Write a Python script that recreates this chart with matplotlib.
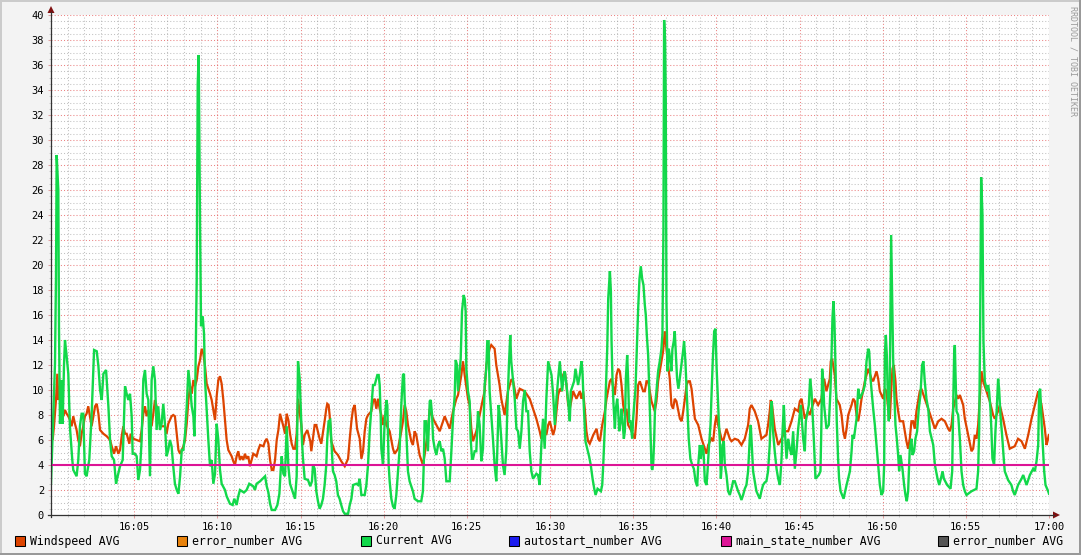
import matplotlib
matplotlib.use("Agg")
import matplotlib.pyplot as plt
from matplotlib.patches import Rectangle, Polygon
from matplotlib.lines import Line2D

# (minutes after 16:00, value)
wind_pts = [
    (0.00, 7.1), (0.10, 6), (0.18, 7.1), (0.30, 9.2), (0.38, 11.3), (0.44, 9.2), (0.50, 9.7), (0.58, 10.8),
    (0.64, 8.7), (0.74, 7.9), (0.84, 8.4), (0.94, 8.1), (1.04, 7.9), (1.14, 7.6), (1.24, 7.1), (1.34, 7.9),
    (1.44, 7.3), (1.54, 6.8), (1.64, 6), (1.74, 5.5), (1.84, 6.5), (1.94, 7.1), (2.04, 7.9), (2.14, 8.1),
    (2.24, 8.7), (2.34, 7.9), (2.44, 7.1), (2.55, 7.9), (2.65, 8.7), (2.75, 8.9), (2.85, 8.1), (2.95, 6.8),
    (3.15, 6.5), (3.35, 6.3), (3.55, 6), (3.65, 5.5), (3.79, 4.9), (3.91, 5.5), (4.05, 4.9), (4.15, 5.2),
    (4.25, 6.3), (4.35, 7.1), (4.45, 6.5), (4.55, 6.5), (4.71, 5.7), (4.79, 6.5), (4.95, 6.1), (5.15, 6),
    (5.35, 5.9), (5.45, 6.8), (5.55, 8.1), (5.65, 8.7), (5.75, 7.9), (5.85, 8.4), (5.95, 7.9), (6.05, 7.1),
    (6.15, 8.1), (6.25, 9.2), (6.35, 8.7), (6.45, 7.9), (6.55, 7.3), (6.65, 7.1), (6.85, 7.1), (6.95, 6.5),
    (7.05, 7.3), (7.25, 7.9), (7.35, 8), (7.45, 7.9), (7.56, 6.5), (7.66, 5.2), (7.76, 4.9), (7.96, 5.5),
    (8.06, 6), (8.16, 7.3), (8.26, 9.2), (8.36, 10.3), (8.46, 9.7), (8.56, 10.8), (8.66, 10.3), (8.76, 10.8),
    (8.86, 11.9), (8.96, 12.4), (9.06, 13.3), (9.16, 12.9), (9.26, 11.9), (9.36, 10.5), (9.56, 9.7), (9.66, 9.2),
    (9.76, 8.4), (9.86, 7.6), (9.96, 9.5), (10.06, 10.8), (10.16, 11.1), (10.26, 10.5), (10.36, 9.2), (10.46, 7.6),
    (10.56, 6), (10.66, 5.2), (10.86, 4.7), (10.96, 4.3), (11.06, 4), (11.16, 4.7), (11.26, 5.1), (11.36, 4.4),
    (11.46, 4.7), (11.56, 4.4), (11.66, 4.9), (11.76, 4.5), (11.86, 4.7), (11.96, 3.9), (12.16, 4.9), (12.36, 4.7),
    (12.46, 5.2), (12.57, 5.6), (12.77, 5.5), (12.87, 5.9), (12.97, 6.1), (13.07, 5.7), (13.17, 4.4), (13.27, 3.6),
    (13.37, 3.6), (13.47, 4.4), (13.57, 6), (13.67, 6.8), (13.77, 8.1), (13.87, 7.6), (13.97, 7.1), (14.07, 6.5),
    (14.17, 8.1), (14.27, 7.6), (14.37, 6.5), (14.47, 5.7), (14.57, 5.3), (14.67, 5.3), (14.77, 6.5),
    (14.85, 9.3), (15.05, 7.2), (15.15, 5.6), (15.25, 6.4), (15.41, 6.8), (15.59, 5.9), (15.65, 5.1), (15.85, 7.2),
    (15.95, 7.2), (16.15, 6.1), (16.25, 5.7), (16.45, 7.5), (16.55, 8.5), (16.61, 8.9), (16.69, 8.8), (16.75, 8),
    (16.85, 5.9), (17.05, 5.1), (17.25, 4.8), (17.45, 4.3), (17.66, 3.9), (17.86, 4.5), (17.96, 6.1), (18.06, 7.5),
    (18.16, 8.5), (18.26, 8.8), (18.40, 6.9), (18.56, 6.1), (18.66, 4.5), (18.76, 5.1), (18.86, 6.7), (18.96, 7.7),
    (19.06, 8), (19.26, 8.3), (19.36, 9.1), (19.46, 9.3), (19.56, 8.5), (19.66, 9.3), (19.76, 8.5), (19.86, 8),
    (19.96, 7.2), (20.06, 8), (20.16, 7.2), (20.36, 6.7), (20.56, 5.3), (20.66, 4.9), (20.86, 5.3), (21.06, 6.7),
    (21.16, 7.5), (21.26, 8.8), (21.36, 8.3), (21.46, 7.2), (21.66, 5.9), (21.76, 5.6), (21.86, 6.7), (21.96, 6.4),
    (22.16, 4.8), (22.36, 4), (22.46, 4.8), (22.66, 6.7), (22.77, 8.5), (22.97, 7.7), (23.17, 7.2), (23.37, 6.7),
    (23.67, 7.9), (23.97, 6.9), (24.17, 8.3), (24.37, 9.3), (24.47, 9.6), (24.67, 11.2), (24.77, 12.3), (24.87, 11.2),
    (25.07, 9.3), (25.17, 8.8), (25.27, 6.9), (25.37, 5.9), (25.57, 6.7), (25.77, 8), (25.97, 9.3), (26.07, 9.9),
    (26.17, 12), (26.37, 13.3), (26.47, 13.6), (26.67, 13.3), (26.77, 12), (26.97, 10.4), (27.07, 9.3), (27.27, 8),
    (27.47, 9.9), (27.67, 10.8), (27.77, 10.8), (27.98, 9.3), (28.18, 10.1), (28.48, 9.9), (28.78, 9.3), (28.98, 8.5),
    (29.18, 7.7), (29.38, 6.7), (29.48, 6.1), (29.68, 6.7), (29.78, 6.4),
    (29.89, 7.2), (29.99, 7.5), (30.19, 6.4), (30.29, 6.9), (30.39, 8.3), (30.49, 9.6), (30.59, 10.1), (30.69, 9.9),
    (30.79, 11.2), (30.89, 11.5), (30.99, 10.4), (31.09, 8.8), (31.19, 8.5), (31.39, 9.9), (31.59, 9.3), (31.79, 9.9),
    (31.89, 9.3), (31.99, 9.9), (32.09, 8.5), (32.19, 6.7), (32.29, 5.9), (32.39, 5.7), (32.60, 6.4), (32.80, 6.9),
    (32.90, 6.1), (33.00, 5.9), (33.14, 7.2), (33.30, 8.3), (33.40, 9.3), (33.60, 10.7), (33.70, 10.9), (33.90, 9.6),
    (34.00, 11.2), (34.10, 11.7), (34.20, 11.5), (34.30, 10.4), (34.40, 8.8), (34.50, 8), (34.60, 8.5), (34.70, 7.2),
    (34.90, 6.7), (35.10, 6.1), (35.20, 7.7), (35.30, 10.4), (35.40, 10.7), (35.60, 9.9), (35.70, 9.9), (35.80, 10.7),
    (35.90, 10.7), (36.10, 9.1), (36.30, 8.3), (36.40, 9.1), (36.50, 10.7), (36.70, 12.3), (36.80, 13.1), (36.90, 14.7),
    (37.00, 13.3), (37.10, 12), (37.20, 10.9), (37.30, 8.8), (37.40, 8.5), (37.50, 9.3), (37.60, 9.1), (37.81, 7.7),
    (37.91, 7.5), (38.01, 8.3), (38.11, 9.3), (38.21, 10.4), (38.31, 10.7), (38.41, 10.7), (38.51, 10.1), (38.71, 7.7),
    (38.91, 7.2), (39.11, 6.1), (39.31, 5.3), (39.41, 4.9), (39.51, 5.6), (39.71, 6.1), (39.81, 5.9), (39.91, 7.2),
    (40.01, 8), (40.11, 7.2), (40.31, 6.1), (40.41, 5.9), (40.61, 6.9), (40.81, 6.1), (40.91, 5.9), (41.11, 6.1),
    (41.31, 6), (41.51, 5.6), (41.71, 6.1), (41.91, 7.2), (42.01, 8.5), (42.11, 8.8), (42.31, 8.3), (42.51, 7.5),
    (42.71, 6.1), (43.01, 6.4), (43.11, 7.2), (43.21, 8.3), (43.27, 9.2), (43.35, 8.8), (43.51, 6.9), (43.72, 5.6),
    (43.92, 6.1), (44.12, 6.7), (44.32, 6.7), (44.52, 7.5), (44.72, 8.5),
    (44.92, 8.3), (45.02, 9.1), (45.12, 9.3), (45.32, 7.7), (45.52, 8.3), (45.62, 8), (45.72, 8.5), (45.92, 9.3),
    (46.12, 8.8), (46.32, 9.3), (46.42, 10.4), (46.48, 10.9), (46.62, 9.9), (46.82, 10.9), (46.88, 12.3), (46.96, 12.5),
    (47.12, 11.2), (47.22, 9.3), (47.42, 8.8), (47.53, 8), (47.63, 6.7), (47.73, 6.1), (47.83, 6.9), (47.93, 8),
    (48.13, 8.8), (48.23, 9.3), (48.33, 9.1), (48.43, 8), (48.53, 7.5), (48.63, 8.3), (48.73, 9.3), (48.93, 10.7),
    (49.13, 11.7), (49.33, 10.9), (49.43, 10.7), (49.63, 11.5), (49.73, 10.9), (49.83, 9.9), (50.03, 9.3), (50.13, 10.1),
    (50.23, 9.9), (50.33, 8.5), (50.43, 7.7), (50.53, 10.4), (50.59, 11.7), (50.67, 12), (50.77, 10.7), (50.83, 9.3),
    (50.93, 8.3), (51.03, 7.5), (51.23, 7.5), (51.33, 6.7), (51.43, 5.9), (51.53, 5.3), (51.63, 6.1), (51.73, 7.5),
    (51.83, 7.5), (51.93, 6.9), (52.03, 8.3), (52.13, 9.1), (52.23, 9.9), (52.33, 10.1), (52.53, 9.3), (52.74, 8.5),
    (52.94, 7.7), (53.14, 6.9), (53.34, 7.5), (53.54, 7.7), (53.74, 7.5), (53.94, 6.9), (54.04, 6.7), (54.14, 7.2),
    (54.24, 8.5), (54.44, 9.6), (54.54, 9.3), (54.64, 9.6), (54.84, 8.8), (54.94, 7.7), (55.14, 6.4), (55.34, 5.1),
    (55.44, 5.3), (55.54, 6.4), (55.64, 6.1), (55.74, 7.2), (55.84, 9.3), (55.94, 11.5), (56.04, 10.7), (56.24, 9.9),
    (56.44, 9.1), (56.64, 8), (56.74, 7.7), (56.94, 8.3), (57.04, 8.8), (57.24, 7.7), (57.44, 6.4), (57.64, 5.3),
    (57.94, 5.5), (58.14, 6.1), (58.35, 5.9), (58.55, 5.3), (58.75, 6.4), (58.95, 7.7), (59.15, 8.8), (59.35, 9.9),
    (59.55, 8.8), (59.75, 6.9), (59.85, 5.6), (59.91, 5.9), (59.99, 6.4),
]

current_pts = [
    (0.00, 2.5), (0.24, 12.1), (0.30, 19), (0.34, 28.8), (0.44, 26), (0.48, 15), (0.54, 7.3), (0.64, 10.8),
    (0.70, 7.3), (0.78, 11.9), (0.84, 14), (0.94, 12.7), (1.04, 11.3), (1.14, 7), (1.28, 4.4), (1.34, 3.6),
    (1.54, 3.1), (1.64, 4.4), (1.74, 7.1), (1.84, 8.1), (1.94, 8.1), (2.04, 3.3), (2.14, 3.1), (2.30, 4.4),
    (2.44, 7.9), (2.59, 13.2), (2.75, 13.1), (2.85, 11.9), (2.95, 10), (3.05, 9.2), (3.15, 11.3), (3.31, 11.6),
    (3.45, 8.7), (3.55, 6), (3.65, 4.7), (3.79, 4.4), (3.91, 2.5), (3.99, 3), (4.15, 3.9), (4.31, 4.4),
    (4.45, 10.3), (4.55, 9.7), (4.65, 9.2), (4.75, 9.7), (4.85, 7.9), (4.91, 4.9), (5.05, 4.9), (5.15, 4.7),
    (5.25, 2.8), (5.35, 3.6), (5.45, 6), (5.55, 10.8), (5.65, 11.6), (5.75, 9.7), (5.85, 9.2), (5.95, 3.1),
    (6.05, 10.8), (6.15, 11.9), (6.25, 10.8), (6.35, 6.8), (6.45, 8.7), (6.55, 6.8), (6.65, 7.3), (6.75, 8.9),
    (6.85, 7.3), (6.95, 4.7), (7.05, 5.2), (7.15, 6), (7.25, 5.5), (7.35, 3.9), (7.45, 2.5), (7.56, 2),
    (7.66, 1.7), (7.76, 3.1), (7.86, 5.2), (7.96, 5.2), (8.06, 6.5), (8.16, 8.7), (8.26, 11.6), (8.36, 10.3),
    (8.46, 8.7), (8.56, 7.9), (8.62, 6.3), (8.66, 8.7), (8.76, 18.8), (8.82, 34.5), (8.88, 36.8), (8.96, 23.3),
    (9.02, 15.1), (9.12, 15.9), (9.20, 14.5), (9.26, 10.8), (9.36, 8.4), (9.46, 6), (9.56, 3.9), (9.66, 4.4),
    (9.76, 2.5), (9.86, 3.3), (9.96, 7.3), (10.06, 6), (10.16, 3.6), (10.26, 2.5), (10.46, 2), (10.56, 1.5),
    (10.76, 0.9), (10.92, 0.8), (11.02, 1.3), (11.16, 0.8), (11.26, 1.5), (11.36, 2), (11.60, 1.8), (11.76, 2),
    (11.92, 2.5), (12.16, 2.3), (12.26, 2), (12.36, 2.5), (12.57, 2.7), (12.87, 3.1), (12.97, 2.3), (13.07, 1.8),
    (13.17, 0.9), (13.27, 0.4), (13.47, 0.4), (13.61, 0.8), (13.73, 1.7), (13.81, 3.6), (13.87, 4.7), (13.97, 3.3),
    (14.07, 3.1), (14.17, 7.1), (14.27, 3.9), (14.37, 2.5), (14.57, 1.7), (14.67, 1.3), (14.77, 3.1),
    (14.85, 12.3), (14.95, 10.9), (15.01, 8.8), (15.09, 5.9), (15.15, 4.5), (15.25, 2.9), (15.45, 2.8), (15.59, 2.3),
    (15.69, 2.7), (15.75, 4), (15.85, 3.7), (15.95, 1.9), (16.05, 1.1), (16.15, 0.5), (16.25, 0.8), (16.35, 1.3),
    (16.45, 2.4), (16.55, 4), (16.61, 6.1), (16.69, 7.5), (16.79, 7.6), (16.85, 6.1), (16.95, 3.5), (17.05, 3.2),
    (17.15, 2.7), (17.25, 1.6), (17.35, 1.3), (17.45, 0.8), (17.56, 0.3), (17.66, 0.1), (17.86, 0.1), (17.96, 0.8),
    (18.06, 1.3), (18.16, 2.4), (18.36, 2.5), (18.46, 2.4), (18.56, 2.9), (18.66, 1.6), (18.86, 1.6), (18.96, 2.4),
    (19.06, 4), (19.16, 6.7), (19.26, 8.5), (19.36, 10.4), (19.46, 10.4), (19.62, 11.2), (19.70, 11.2), (19.76, 10.4),
    (19.82, 8), (19.86, 5.3), (19.96, 4), (20.06, 7.5), (20.16, 9.2), (20.22, 8.8), (20.30, 4), (20.36, 2.7),
    (20.46, 1.3), (20.56, 0.7), (20.66, 0.5), (20.76, 1.6), (20.86, 3.5), (20.96, 5.3), (21.06, 8.8), (21.16, 11.2),
    (21.22, 11.3), (21.26, 9.3), (21.36, 6.7), (21.46, 3.5), (21.56, 2.7), (21.76, 1.9), (21.86, 1.3), (22.06, 1.1),
    (22.26, 1.1), (22.36, 1.9), (22.42, 4.5), (22.46, 7.5), (22.56, 7.5), (22.66, 5.1), (22.77, 9.1), (22.83, 9.2),
    (22.91, 8), (22.97, 6.1), (23.07, 5.3), (23.17, 4.8), (23.27, 5.6), (23.37, 5.9), (23.47, 5.1), (23.57, 5.3),
    (23.67, 4.5), (23.77, 2.7), (23.97, 2.7), (24.07, 5.1), (24.17, 7.7), (24.27, 9.6), (24.33, 12.4), (24.41, 12),
    (24.47, 9.9), (24.57, 11.5), (24.63, 12.5), (24.71, 16.3), (24.81, 17.6), (24.87, 17.3), (24.93, 16.3), (24.97, 11.7),
    (25.07, 9.9), (25.17, 9.1), (25.23, 6.1), (25.31, 4.5), (25.37, 4.5), (25.47, 5.1), (25.57, 5.1), (25.67, 8.3),
    (25.77, 7.2), (25.87, 4.3), (25.97, 5.3), (26.07, 10.4), (26.17, 11.7), (26.23, 13.9), (26.31, 13.9), (26.37, 9.9),
    (26.47, 8), (26.57, 6.1), (26.67, 4), (26.77, 2.7), (26.83, 5.1), (26.91, 8.8), (26.97, 8), (27.07, 6.1),
    (27.17, 4), (27.27, 3.2), (27.37, 5.1), (27.43, 8.3), (27.53, 12), (27.61, 14.4), (27.67, 12.3), (27.77, 10.9),
    (27.88, 9.3), (27.98, 6.9), (28.08, 6.7), (28.18, 5.3), (28.28, 6.7), (28.38, 9.1), (28.48, 10), (28.58, 8.3),
    (28.68, 8.3), (28.78, 5.1), (28.88, 3.5), (28.98, 2.9), (29.18, 3.3), (29.28, 3.2), (29.38, 2.4), (29.48, 5.6),
    (29.58, 7.7), (29.68, 5.3), (29.78, 9.3), (29.84, 10.9),
    (29.89, 12.3), (30.09, 11.2), (30.19, 9.6), (30.29, 7.2), (30.39, 9.3), (30.49, 10.9), (30.59, 12.3), (30.73, 9.9),
    (30.83, 11.2), (30.89, 11.5), (30.99, 10.4), (31.09, 9.1), (31.19, 7.5), (31.25, 9.9), (31.45, 10.7), (31.53, 11.7),
    (31.69, 10.4), (31.79, 11.2), (31.89, 12.3), (31.95, 11.5), (32.03, 8.8), (32.13, 5.9), (32.35, 4.7), (32.45, 4),
    (32.56, 2.9), (32.66, 2.1), (32.74, 1.6), (32.86, 2.1), (33.06, 1.9), (33.14, 2.4), (33.20, 4), (33.30, 7.2),
    (33.36, 10.1), (33.44, 13.3), (33.50, 17.3), (33.60, 19.5), (33.66, 17.9), (33.70, 13.9), (33.76, 10.7), (33.82, 8.8),
    (33.90, 6.9), (33.96, 8.5), (34.04, 9.3), (34.10, 8.3), (34.16, 6.7), (34.26, 7.7), (34.30, 8.5), (34.36, 7.5),
    (34.44, 6.1), (34.50, 6.7), (34.56, 10.9), (34.64, 12.8), (34.70, 10.7), (34.76, 7.5), (34.84, 7.5), (34.94, 6.1),
    (35.00, 7.7), (35.06, 8.8), (35.14, 10.1), (35.22, 13.3), (35.30, 16.5), (35.38, 18.9), (35.46, 19.9), (35.54, 18.9),
    (35.62, 18.4), (35.70, 16.8), (35.76, 16), (35.82, 14.4), (35.90, 12.8), (35.96, 10.4), (36.04, 6.9), (36.10, 4),
    (36.14, 3.6), (36.20, 4), (36.26, 5.9), (36.32, 8.8), (36.40, 9.9), (36.50, 11.5), (36.60, 12.3), (36.70, 13.3),
    (36.76, 14.5), (36.82, 22.9), (36.86, 39.6), (36.92, 38), (36.96, 33.2), (37.00, 17.2), (37.06, 11.5), (37.14, 13.3),
    (37.22, 12.5), (37.30, 11.5), (37.36, 13.3), (37.44, 13.9), (37.50, 14.7), (37.56, 13.1), (37.64, 10.9), (37.72, 10.1),
    (37.80, 10.9), (37.90, 12), (38.00, 13.1), (38.06, 13.9), (38.14, 12.3), (38.20, 10.4), (38.26, 8.3), (38.34, 6.1),
    (38.44, 4.5), (38.55, 4), (38.65, 3.7), (38.75, 2.7), (38.85, 2.3), (38.91, 4), (39.01, 5.6), (39.07, 4.5),
    (39.15, 5.6), (39.23, 5.1), (39.31, 2.7), (39.41, 2.4), (39.47, 3.5), (39.55, 5.3), (39.65, 7.2), (39.71, 9.6),
    (39.79, 12.5), (39.87, 14.7), (39.95, 14.9), (40.01, 12), (40.09, 9.3), (40.15, 7.5), (40.21, 5.9), (40.27, 2.9),
    (40.31, 3.7), (40.37, 5.6), (40.45, 5.9), (40.51, 4), (40.61, 3.2), (40.71, 1.9), (40.81, 1.6), (40.91, 2.1),
    (41.01, 2.7), (41.11, 2.7), (41.21, 2.3), (41.31, 1.9), (41.41, 1.6), (41.51, 1.2), (41.61, 1.6), (41.71, 2.1),
    (41.81, 2.4), (41.91, 3.5), (42.01, 6.1), (42.07, 7.2), (42.15, 5.1), (42.21, 3.5), (42.31, 2.7), (42.41, 1.9),
    (42.51, 1.6), (42.61, 1.3), (42.71, 1.9), (42.81, 2.4), (42.91, 2.6), (43.01, 2.7), (43.11, 3.5), (43.21, 5.6),
    (43.27, 8), (43.33, 9.1), (43.41, 6.7), (43.51, 5.1), (43.62, 3.7), (43.72, 2.9), (43.82, 2.4), (43.92, 4.5),
    (43.98, 6.7), (44.06, 8.8), (44.12, 6.7), (44.22, 4.5), (44.32, 6.1), (44.42, 5.3), (44.52, 4.8), (44.62, 6.7),
    (44.72, 3.7), (44.82, 5.1),
    (44.92, 6.9), (45.08, 8.8), (45.22, 6.1), (45.32, 5.1), (45.38, 7.5), (45.56, 8.8), (45.64, 10.9), (45.72, 9.9),
    (45.78, 8.3), (45.86, 6.1), (45.96, 2.9), (46.16, 3.2), (46.26, 3.5), (46.32, 7.5), (46.36, 11.7), (46.42, 10.9),
    (46.48, 8.8), (46.62, 6.9), (46.76, 7.2), (46.86, 9.9), (46.92, 12.5), (46.98, 15.7), (47.04, 17.1), (47.10, 15.5),
    (47.16, 12), (47.24, 7.5), (47.32, 4.5), (47.38, 2.9), (47.47, 1.9), (47.65, 1.3), (47.83, 2.4), (48.03, 3.5),
    (48.13, 5.1), (48.19, 6.4), (48.27, 6.1), (48.33, 6.7), (48.43, 7.7), (48.53, 10.1), (48.63, 9.3), (48.83, 9.9),
    (48.93, 10.4), (49.03, 12.3), (49.13, 13.3), (49.19, 13.1), (49.27, 10.9), (49.43, 8.5), (49.53, 7.2), (49.63, 5.6),
    (49.73, 4), (49.83, 2.4), (49.93, 1.6), (50.03, 1.9), (50.09, 4), (50.13, 12.8), (50.19, 14.4), (50.25, 12.8),
    (50.31, 9.3), (50.37, 7.5), (50.43, 10.7), (50.49, 20), (50.51, 22.4), (50.57, 17.3), (50.63, 12.5), (50.69, 10.1),
    (50.77, 7.2), (50.85, 6.1), (50.93, 4.8), (50.99, 3.5), (51.07, 4.8), (51.19, 3.7), (51.29, 2.4), (51.37, 1.6),
    (51.45, 1.1), (51.53, 1.9), (51.63, 5.3), (51.73, 6.1), (51.79, 4.8), (51.89, 5.1), (51.97, 6.1), (52.07, 6.7),
    (52.17, 8.5), (52.27, 9.6), (52.37, 12), (52.45, 12.3), (52.53, 10.7), (52.63, 9.3), (52.74, 8.5), (52.84, 6.7),
    (53.04, 5.6), (53.14, 4), (53.30, 2.9), (53.40, 2.4), (53.50, 2.9), (53.60, 3.5), (53.68, 2.9), (53.88, 2.4),
    (54.08, 2.1), (54.18, 3.5), (54.24, 8.8), (54.30, 13.1), (54.34, 13.6), (54.38, 11.2), (54.44, 8.3), (54.54, 8),
    (54.64, 6.1), (54.74, 3.5), (54.84, 2.4), (54.94, 1.9), (55.04, 1.6), (55.34, 1.9), (55.64, 2.1), (55.74, 3.5),
    (55.80, 6.7), (55.86, 14.7), (55.92, 27), (56.00, 24), (56.06, 13.9), (56.14, 10.7), (56.28, 9.9), (56.34, 10.4),
    (56.40, 9.9), (56.48, 8.5), (56.54, 6.7), (56.60, 4.5), (56.70, 4), (56.78, 6.7), (56.86, 8.5), (56.94, 10.9),
    (57.00, 10.1), (57.08, 8), (57.18, 6.4), (57.28, 4.5), (57.34, 3.5), (57.54, 2.8), (57.74, 2.4), (57.84, 1.9),
    (57.94, 1.6), (58.14, 2.4), (58.35, 2.9), (58.45, 3.2), (58.65, 2.4), (58.85, 3.2), (59.05, 3.7), (59.15, 3.5),
    (59.25, 4.3), (59.35, 5.6), (59.41, 9.9), (59.47, 10.1), (59.55, 7.5), (59.65, 5.1), (59.71, 3.5), (59.79, 2.4),
    (59.95, 1.9), (60.00, 1.7),
]

main_state_level = 4

x_tick_minutes = [5, 10, 15, 20, 25, 30, 35, 40, 45, 50, 55, 60]
x_tick_labels = ["16:05", "16:10", "16:15", "16:20", "16:25", "16:30",
                 "16:35", "16:40", "16:45", "16:50", "16:55", "17:00"]
y_ticks = list(range(0, 41, 2))

legend_labels = ["Windspeed AVG", "error_number AVG", "Current AVG",
                 "autostart_number AVG", "main_state_number AVG", "error_number AVG"]
legend_colors = ["#dd4400", "#e8820c", "#12d84a", "#1c1cf0", "#dc1496", "#555555"]

W, H = 1081, 555
MONO = "DejaVu Sans Mono"


def fx(px):
    return px / W


def fy(py):
    return 1 - py / H


fig = plt.figure(figsize=(W / 100, H / 100), dpi=100, facecolor="#f3f3f3")
ax = fig.add_axes([fx(51), fy(515), fx(1049) - fx(51), fy(15) - fy(515)])
ax.set_facecolor("white")
ax.set_xlim(0, 60)
ax.set_ylim(0, 40)

# grid like rrdtool: grey minor, red major, dotted
ax.set_xticks(x_tick_minutes)
ax.set_xticklabels(x_tick_labels)
ax.set_xticks(range(0, 61), minor=True)
ax.set_yticks(y_ticks)
ax.set_yticks([i * 0.5 for i in range(81)], minor=True)
ax.grid(which="minor", color="#8f8f8f", alpha=0.55, linestyle=(0, (1, 2)), linewidth=0.75)
ax.grid(which="major", color="#de3030", alpha=0.6, linestyle=(0, (1, 2)), linewidth=0.75)
ax.set_axisbelow(True)
for s in ax.spines.values():
    s.set_visible(False)
ax.tick_params(which="major", length=2, width=0.75, color="#e0a0a0", pad=3,
               labelsize=7.5, labelcolor="black")
ax.tick_params(which="minor", length=1.5, width=0.75, color="#cccccc")
for lab in ax.get_xticklabels() + ax.get_yticklabels():
    lab.set_family(MONO)

wt, wv = zip(*wind_pts)
ct, cv = zip(*current_pts)
ax.plot(wt, wv, color=legend_colors[0], linewidth=1.6, solid_joinstyle="miter")
ax.plot(ct, cv, color=legend_colors[2], linewidth=1.7, solid_joinstyle="miter")
ax.plot([0, 60], [main_state_level, main_state_level], color=legend_colors[4], linewidth=1.5)

# axis lines with arrows
fig.add_artist(Line2D([fx(51), fx(51)], [fy(517), fy(12)], color="#333333", linewidth=0.9))
fig.add_artist(Line2D([fx(48), fx(1054)], [fy(515), fy(515)], color="#333333", linewidth=0.9))
fig.add_artist(Polygon([[fx(47.5), fy(13)], [fx(54.5), fy(13)], [fx(51), fy(6)]],
                       closed=True, color="#7f1010", linewidth=0))
fig.add_artist(Polygon([[fx(1053), fy(511.5)], [fx(1053), fy(518.5)], [fx(1060), fy(515)]],
                       closed=True, color="#7f1010", linewidth=0))

# legend row
sw_x = [15, 177, 361, 509, 721, 938]
for x0, lab, col in zip(sw_x, legend_labels, legend_colors):
    fig.add_artist(Rectangle((fx(x0), fy(546)), fx(10), 10 / H, facecolor=col,
                             edgecolor="black", linewidth=0.75))
    fig.text(fx(x0 + 15), fy(541), lab, family=MONO, fontsize=8.3,
             ha="left", va="center", color="black")

fig.text(fx(1073), fy(6), "RRDTOOL / TOBI OETIKER", rotation=270, family=MONO,
         fontsize=6, color="#9a9a9a", ha="center", va="top")

# shaded frame
fig.add_artist(Rectangle((0, fy(2)), 1, 2 / H, color="#cbcbcb", linewidth=0))
fig.add_artist(Rectangle((0, 0), fx(2), 1, color="#cbcbcb", linewidth=0))
fig.add_artist(Rectangle((0, 0), 1, 2 / H, color="#999999", linewidth=0))
fig.add_artist(Rectangle((fx(W - 2), 0), fx(2), 1, color="#999999", linewidth=0))

fig.savefig("out.png", dpi=100, facecolor=fig.get_facecolor())
